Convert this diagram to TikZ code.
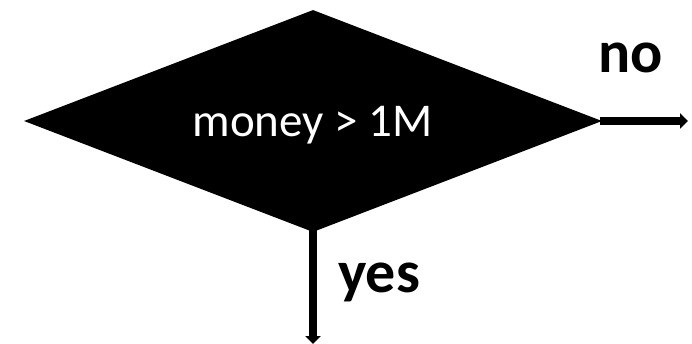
\documentclass[tikz,border=0pt]{standalone}
\usepackage{fontspec}
\setmainfont{Carlito}
\usetikzlibrary{shapes.geometric,arrows.meta}
\tikzset{
  decision/.style={diamond, fill=black, draw=none, inner sep=0pt, minimum width=578pt, minimum height=222pt},
  flowarrow/.style={line width=7.5pt, -{Triangle[length=8pt,width=15pt]}},
  answer/.style={font=\fontsize{60}{64}\selectfont\bfseries, inner sep=0pt, anchor=base west},
  condition/.style={font=\fontsize{47}{52}\selectfont, text=white, inner sep=0pt, anchor=base}
}
\begin{document}
\begin{tikzpicture}[x=1pt,y=-1pt]
\useasboundingbox (0,0) rectangle (692,344);
\node[decision] (dec) at (313,121) {};
\node[condition] (cond) at (312.5,137) {money > 1M};
\coordinate (noend) at (688,121);
\coordinate (yesend) at (313,344);
\draw[flowarrow] ([xshift=-2pt]dec.east) -- (noend);
\draw[flowarrow] ([yshift=2pt]dec.south) -- (yesend);
\node[answer] (no) at (598,73) {no};
\node[answer] (yes) at (338,292) {yes};
\end{tikzpicture}
\end{document}
